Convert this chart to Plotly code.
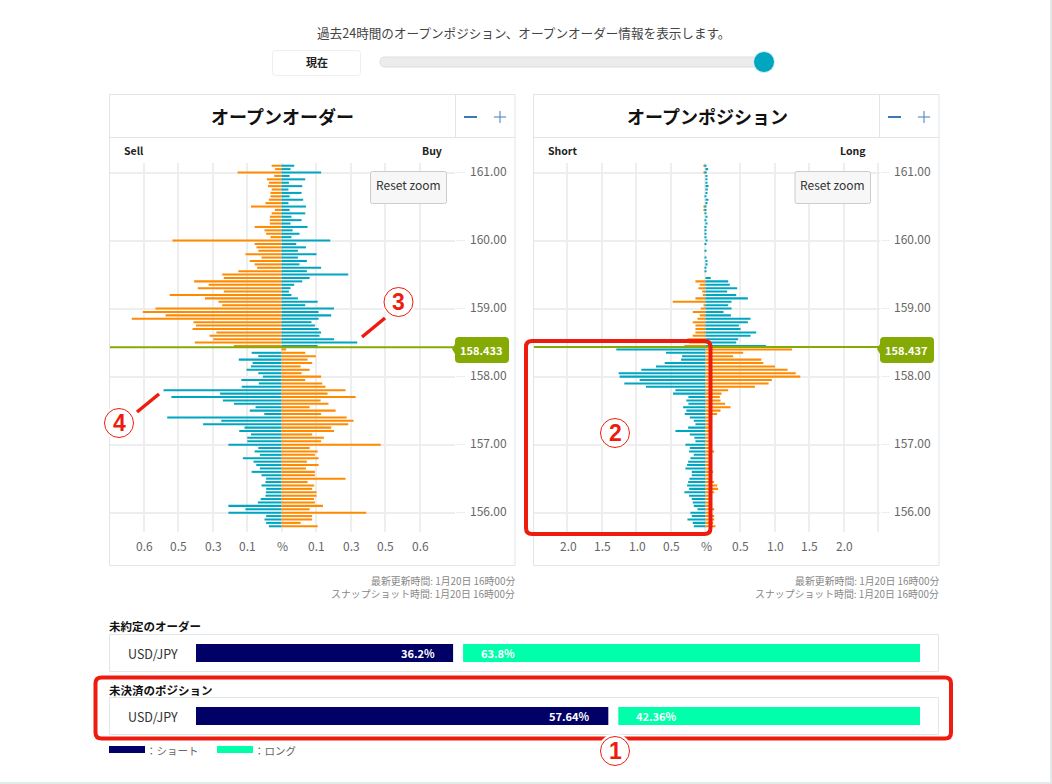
import plotly.graph_objects as go

# ---------- data ----------
price_above = [161.10,161.05,161.00,160.95,160.90,160.85,160.80,160.75,160.70,160.65,160.60,160.55,160.50,160.45,160.40,160.35,160.30,160.25,160.20,160.15,160.10,160.05,
               160.00,159.95,159.90,159.85,159.80,159.75,159.70,159.65,159.60,159.55,159.50,159.45,159.40,159.35,159.30,159.25,159.20,159.15,159.10,159.05,
               159.00,158.95,158.90,158.85,158.80,158.75,158.70,158.65,158.60,158.55,158.50,158.45]
price_below = [158.40,158.35,158.30,158.25,158.20,158.15,158.10,158.05,158.00,157.95,157.90,157.85,157.80,157.75,157.70,157.65,157.60,157.55,157.50,157.45,157.40,157.35,157.30,157.25,157.20,157.15,157.10,157.05,
               157.00,156.95,156.90,156.85,156.80,156.75,156.70,156.65,156.60,156.55,156.50,156.45,156.40,156.35,156.30,156.25,156.20,156.15,156.10,156.05,
               156.00,155.95,155.90,155.85,155.80]

order_sell_above = [.043,.028,.191,.032,.064,.055,.059,.043,.048,.048,.055,.070,.133,.029,.043,.051,.051,.051,.117,.074,.067,.048,
                    .474,.117,.109,.101,.157,.087,.138,.117,.106,.188,.258,.251,.380,.317,.364,.251,.486,.333,.274,.258,
                    .548,.603,.504,.651,.383,.372,.387,.283,.313,.297,.377,.207]
order_buy_above = [.055,.039,.172,.035,.103,.032,.090,.030,.087,.035,.094,.030,.106,.035,.103,.043,.087,.039,.113,.048,.078,.043,
                   .212,.064,.106,.071,.152,.071,.110,.078,.172,.110,.290,.122,.090,.055,.039,.032,.043,.071,.157,.103,
                   .228,.161,.216,.161,.130,.145,.161,.172,.165,.228,.329,.157]
order_sell_below = [0,.130,.101,.186,.126,.133,.152,.101,.081,.175,.099,.173,.513,.267,.479,.255,.207,.113,.138,.075,.497,.262,.341,.161,.184,.133,.149,.149,
                    .231,.101,.117,.094,.168,.122,.110,.094,.130,.087,.067,.070,.087,.067,.068,.070,.091,.103,.231,.157,
                    .231,.067,.074,.067,.055]
order_buy_below = [.020,.103,.149,.113,.133,.083,.122,.087,.172,.103,.177,.191,.278,.200,.322,.170,.204,.122,.235,.172,.283,.313,.290,.216,.228,.133,.184,.172,
                   .431,.122,.157,.145,.161,.110,.161,.106,.145,.145,.278,.113,.142,.133,.152,.152,.141,.145,.180,.122,
                   .368,.133,.133,.083,.157]

pos_short_above = [.03,0,.03,0,0,0,0,0,0,0,0,0,.03,.03,0,0,0,0,0,0,0,0,0,0,0,0,0,0,0,0,0,0,0,0,
                   .145,.082,.102,.048,.039,.145,.474,.015,.068,.184,.082,.116,.184,.145,.145,.145,.184,.261,.237,.305]
pos_long_above = [.010,.039,.019,.029,.029,.029,.044,.034,.029,.015,.044,.029,.015,.015,.010,.029,.010,.029,.015,.010,.010,.010,.029,.010,0,.010,0,.010,.029,.029,.010,.010,0,.077,
                  .329,.353,.459,.314,.445,.614,.377,.329,.377,.261,.368,.653,.614,.484,.508,.735,.653,.474,.445,.875]
pos_short_below = [1.291,.571,.339,.353,.590,.716,.929,1.257,1.243,.953,1.175,.861,.435,.469,.247,.276,.247,.324,
                   .276,.300,.227,.169,.145,.251,.435,.227,.160,.145,.290,.227,.237,.169,.218,.251,.266,.290,.198,.198,.232,.251,.266,.237,.305,.237,.198,.184,.169,.116,.218,.198,.261,.184,.169]
pos_long_below = [1.253,.546,.401,.808,.837,1.006,1.190,1.306,1.373,.962,.914,.716,.329,.232,.208,.218,.285,.363,
                  .218,.169,.097,.087,.087,.087,.087,.087,.087,.087,.087,.087,.126,.087,.087,.087,.087,.087,.111,.087,.087,.126,.169,.184,.126,.087,.087,.087,.087,.126,.087,.126,.126,.111,.145]

current_order_price = 158.433
current_position_price = 158.437

price_ticks = [161, 160, 159, 158, 157, 156]
price_labels = ["161.00", "160.00", "159.00", "158.00", "157.00", "156.00"]
order_tick_vals = [-0.75, -0.6, -0.45, -0.3, -0.15, 0, 0.15, 0.3, 0.45, 0.6, 0.75]
order_tick_text = ["", "0.6", "0.5", "0.3", "0.1", "%", "0.1", "0.3", "0.5", "0.6", ""]
pos_tick_vals = [-2.5, -2, -1.5, -1, -0.5, 0, 0.5, 1, 1.5, 2, 2.5]
pos_tick_text = ["", "2.0", "1.5", "1.0", "0.5", "%", "0.5", "1.0", "1.5", "2.0", ""]

pair = ["USD/JPY"]
order_short_pct = [36.2]
order_long_pct = [63.8]
order_short_txt = "36.2%"
order_long_txt = "63.8%"
pos_short_pct = [57.64]
pos_long_pct = [42.36]
pos_short_txt = "57.64%"
pos_long_txt = "42.36%"

# ---------- styles ----------
W, H = 1052, 784
FONT = "Noto Sans CJK JP, Noto Sans, sans-serif"
ORANGE = "#ff8a00"
TEAL = "#00a6c0"
NAVY = "#000066"
MINT = "#00ffaa"
BORDER = "#dfe7e7"
GRID = "#eeeeee"
RED = "#ee1c0e"
LIME = "#86aa04"
GAP = 0.69

def fx(x): return x / W
def fy(y): return 1 - y / H

shapes, annos = [], []

def rrect(x0, y0, x1, y1, r, fill="rgba(0,0,0,0)", line=BORDER, lw=1):
    X0, X1, Y0, Y1 = fx(x0), fx(x1), fy(y0), fy(y1)
    rx, ry = r / W, r / H
    d = (f"M {X0+rx} {Y0} L {X1-rx} {Y0} Q {X1} {Y0} {X1} {Y0-ry} L {X1} {Y1+ry} Q {X1} {Y1} {X1-rx} {Y1} "
         f"L {X0+rx} {Y1} Q {X0} {Y1} {X0} {Y1+ry} L {X0} {Y0-ry} Q {X0} {Y0} {X0+rx} {Y0} Z")
    shapes.append(dict(type="path", xref="paper", yref="paper", path=d, fillcolor=fill,
                       line=dict(color=line, width=lw), layer="above"))

def seg(x0, y0, x1, y1, color=BORDER, lw=1):
    shapes.append(dict(type="line", xref="paper", yref="paper", x0=fx(x0), x1=fx(x1), y0=fy(y0), y1=fy(y1),
                       line=dict(color=color, width=lw), layer="above"))

def circle(cx, cy, r, fill, line, lw):
    shapes.append(dict(type="circle", xref="paper", yref="paper", x0=fx(cx-r), x1=fx(cx+r), y0=fy(cy+r), y1=fy(cy-r),
                       fillcolor=fill, line=dict(color=line, width=lw), layer="above"))

def text(x, y, s, size=12, color="#333", anchor="center", bold=False):
    shift = {"left": -2, "right": 2, "center": 0}[anchor]
    annos.append(dict(xref="paper", yref="paper", x=fx(x), y=fy(y), xshift=shift, text=f"<b>{s}</b>" if bold else s,
                      showarrow=False, xanchor=anchor, yanchor="middle",
                      font=dict(size=size, color=color, family=FONT)))

# ---------- figure ----------
fig = go.Figure()

def bars(x, y, color, xa, ya):
    fig.add_trace(go.Bar(x=x, y=y, orientation="h", width=0.03, marker=dict(color=color, line=dict(width=0)),
                         xaxis=xa, yaxis=ya, showlegend=False))

neg = lambda v: [-a for a in v]
bars(neg(order_sell_above), price_above, ORANGE, "x", "y")
bars(order_buy_above, price_above, TEAL, "x", "y")
bars(neg(order_sell_below), price_below, TEAL, "x", "y")
bars(order_buy_below, price_below, ORANGE, "x", "y")
bars(neg(pos_short_above), price_above, ORANGE, "x2", "y2")
bars(pos_long_above, price_above, TEAL, "x2", "y2")
bars(neg(pos_short_below), price_below, TEAL, "x2", "y2")
bars(pos_long_below, price_below, ORANGE, "x2", "y2")

def ratio(short, long, xa, ya):
    fig.add_trace(go.Bar(x=[short[0]-GAP], y=pair, base=[0], orientation="h", width=1, marker=dict(color=NAVY, line=dict(width=0)),
                         xaxis=xa, yaxis=ya, showlegend=False))
    fig.add_trace(go.Bar(x=[long[0]-GAP], y=pair, base=[short[0]+GAP], orientation="h", width=1, marker=dict(color=MINT, line=dict(width=0)),
                         xaxis=xa, yaxis=ya, showlegend=False))

ratio(order_short_pct, order_long_pct, "x3", "y3")
ratio(pos_short_pct, pos_long_pct, "x4", "y4")

def xaxis(x0, x1, rng, vals, anchor):
    return dict(domain=[fx(x0), fx(x1)], range=rng, tickmode="array", tickvals=vals, anchor=anchor,
                showgrid=True, gridcolor=GRID, gridwidth=1.5, zeroline=False, showline=False,
                ticks="", showticklabels=False, fixedrange=True)

def yaxis(anchor):
    return dict(domain=[fy(532), fy(163)], range=[155.716, 161.14], tickmode="array", tickvals=price_ticks, ticktext=price_labels,
                side="right", anchor=anchor, showgrid=True, gridcolor=GRID, gridwidth=1.5, zeroline=False, showline=False,
                ticks="outside", ticklen=9, tickcolor=GRID, showticklabels=False, fixedrange=True)

def hidden(y0, y1, x0=None, x1=None, rng=None, anchor=None):
    d = dict(visible=False, fixedrange=True, anchor=anchor, range=rng)
    if y0 is not None:
        d["domain"] = [fy(y1), fy(y0)]
    else:
        d["domain"] = [fx(x0), fx(x1)]
    return d

fig.update_layout(
    width=W, height=H, autosize=False, margin=dict(l=0, r=0, t=0, b=0),
    paper_bgcolor="white", plot_bgcolor="white", barmode="overlay", showlegend=False, hovermode=False,
    font=dict(family=FONT),
    xaxis=xaxis(110, 455, [-0.7457, 0.754], order_tick_vals, "y"),
    yaxis=yaxis("x"),
    xaxis2=xaxis(533.5, 879.5, [-2.49, 2.52], pos_tick_vals, "y2"),
    yaxis2=yaxis("x2"),
    xaxis3=hidden(None, None, 196, 920, [0, 100], "y3"),
    yaxis3=hidden(644, 662, rng=[-0.5, 0.5], anchor="x3"),
    xaxis4=hidden(None, None, 196, 920, [0, 100], "y4"),
    yaxis4=hidden(707, 725, rng=[-0.5, 0.5], anchor="x4"),
)

# tick labels, placed through the axes
for yref, lx in (("y", 468.5), ("y2", 892.5)):
    for val, lab in zip(price_ticks, price_labels):
        annos.append(dict(xref="paper", yref=yref, x=fx(lx), y=val, yshift=2.5, xshift=-1, text=lab, showarrow=False,
                          xanchor="left", yanchor="middle", font=dict(size=12, color="#666", family=FONT)))
for xref, vals, labs in (("x", order_tick_vals, order_tick_text), ("x2", pos_tick_vals, pos_tick_text)):
    for val, lab in zip(vals, labs):
        if lab:
            annos.append(dict(xref=xref, yref="paper", x=val, y=fy(545), xshift=0.7, text=lab, showarrow=False,
                              xanchor="center", yanchor="middle", font=dict(size=12, color="#666", family=FONT)))

# ---------- page furniture ----------
shapes.append(dict(type="rect", xref="paper", yref="paper", x0=fx(1050), x1=1, y0=0, y1=1, fillcolor="#e3eaea", line=dict(width=0), layer="below"))
shapes.append(dict(type="rect", xref="paper", yref="paper", x0=0, x1=1, y0=0, y1=fy(782), fillcolor="#e3eaea", line=dict(width=0), layer="below"))

text(523, 33, "過去24時間のオープンポジション、オープンオーダー情報を表示します。", 12.6, "#444")
rrect(272.5, 50.5, 360.5, 75.5, 3, "white", "#eeeeee")
text(316.5, 62, "現在", 11, "#222", bold=True)
rrect(380, 57, 770, 67, 5, "#ececec", "#dddddd")
circle(764, 62, 10.5, TEAL, "#d8eef2", 1)

for (px0, divider, px1, title, tx, lft, rgt, lftx, rgtx, btn0, btn1, minus0, plus0) in [
    (109.5, 455.5, 515, "オープンオーダー", 282.5, "Sell", "Buy", 124, 442, 370.5, 446.5, 464, 494),
    (533.5, 879.5, 939, "オープンポジション", 707, "Short", "Long", 548, 866, 795, 870.5, 888, 918),
]:
    rrect(px0, 94.5, px1, 565.5, 0)
    seg(px0, 137.5, px1, 137.5)
    seg(divider, 94.5, divider, 137.5)
    text(tx, 116, title, 18, "#111", bold=True)
    text(lftx, 151, lft, 10.5, "#222", "left", True)
    text(rgtx, 151, rgt, 10.5, "#222", "right", True)
    seg(minus0, 117, minus0 + 13, 117, "#3b78b5", 2)
    seg(plus0, 117, plus0 + 12, 117, "#5a8fc4", 1.2)
    seg(plus0 + 6, 111, plus0 + 6, 123, "#5a8fc4", 1.2)
    rrect(btn0, 171.5, btn1, 203.5, 2, "#f7f7f7", "#cccccc")
    text((btn0 + btn1) / 2, 185, "Reset zoom", 12, "#333")
    text(px1, 581, "最新更新時間: 1月20日 16時00分", 9.9, "#888", "right")
    text(px1, 594, "スナップショット時間: 1月20日 16時00分", 9.9, "#888", "right")

# current-price lines and badges
for price, yref, x0, x1, bx0, bx1, label in [
    (current_order_price, "y", 110, 456, 455, 509, current_order_price),
    (current_position_price, "y2", 534, 881, 880, 934, current_position_price),
]:
    shapes.append(dict(type="line", xref="paper", yref=yref, x0=fx(x0), x1=fx(x1), y0=price, y1=price,
                       line=dict(color=LIME, width=2), layer="above"))
    rrect(bx0, 337, bx1, 363, 4, LIME, LIME, 0)
    shapes.append(dict(type="path", xref="paper", yref="paper", fillcolor=LIME, line=dict(width=0), layer="above",
                       path=f"M {fx(bx0)} {fy(344)} L {fx(bx0-3)} {fy(349)} L {fx(bx0)} {fy(354)} Z"))
    text((bx0 + bx1) / 2 - 0.5, 349.5, f"{label:.3f}", 11, "white", bold=True)

# ratio panels
for (y0, y1, title, tyy, xa, short, stxt, ltxt) in [
    (634.5, 671.5, "未約定のオーダー", 626, "x3", order_short_pct, order_short_txt, order_long_txt),
    (697.5, 734.5, "未決済のポジション", 689.5, "x4", pos_short_pct, pos_short_txt, pos_long_txt),
]:
    rrect(109.5, y0, 938.5, y1, 0)
    text(109, tyy, title, 11.5, "#111", "left", True)
    text(153, (y0 + y1) / 2 + 0.5, pair[0], 12.5, "#333")
    ya = "y" + xa[1:]
    annos.append(dict(xref=xa, yref=ya, x=short[0]-GAP, y=0, xanchor="right", xshift=-16, text=f"<b>{stxt}</b>", showarrow=False,
                      font=dict(size=11, color="white", family=FONT)))
    annos.append(dict(xref=xa, yref=ya, x=short[0]+GAP, y=0, xanchor="left", xshift=16, text=f"<b>{ltxt}</b>", showarrow=False,
                      font=dict(size=11, color="white", family=FONT)))

# legend keys
shapes.append(dict(type="rect", xref="paper", yref="paper", x0=fx(109), x1=fx(145), y0=fy(753), y1=fy(746), fillcolor=NAVY, line=dict(width=0), layer="above"))
shapes.append(dict(type="rect", xref="paper", yref="paper", x0=fx(217), x1=fx(253), y0=fy(753), y1=fy(746), fillcolor=MINT, line=dict(width=0), layer="above"))
text(146, 750, "：ショート", 10.5, "#666", "left")
text(254, 750, "：ロング", 10.5, "#666", "left")

# red call-outs
rrect(526, 341, 710.5, 534, 6, "rgba(0,0,0,0)", RED, 4)
rrect(95.5, 677.5, 951, 738.5, 6, "rgba(0,0,0,0)", RED, 4)
seg(362, 337, 385, 318, RED, 3.5)
seg(137, 412, 159, 394, RED, 3.5)
for cx, cy, n in [(615, 751, "1"), (615, 433, "2"), (398.5, 302, "3"), (119, 423, "4")]:
    circle(cx, cy, 17, "white", "white", 0)
    circle(cx, cy, 14.5, "white", RED, 1)
    annos.append(dict(xref="paper", yref="paper", x=fx(cx), y=fy(cy), text=f"<b>{n}</b>", showarrow=False,
                      xanchor="center", yanchor="middle", font=dict(size=23, color=RED, family="Liberation Sans, Noto Sans")))

fig.update_layout(shapes=shapes, annotations=annos)
fig.write_html("out.html", config=dict(displayModeBar=False, staticPlot=False),
               post_script="document.body.style.margin='0';document.body.style.background='white';")
